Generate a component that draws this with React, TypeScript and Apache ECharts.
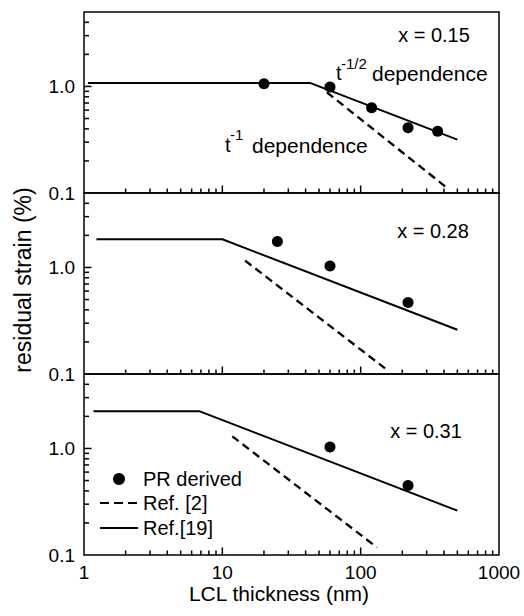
import React, { useEffect, useRef } from 'react';
import * as echarts from 'echarts';

// ---- axis ranges & tick values ----
const X_MIN = 1;
const X_MAX = 1000;
const Y_MIN = 0.1;
const Y_MAX = 5;
const xMinorTicks = [2, 3, 4, 5, 6, 7, 8, 9, 20, 30, 40, 50, 60, 70, 80, 90, 200, 300, 400, 500, 600, 700, 800, 900];
const xMajorTicks = [10, 100];
const yMinorTicks = [0.2, 0.3, 0.4, 0.5, 0.6, 0.7, 0.8, 0.9, 2, 3, 4];
const yMajorTicks = [1];
const xLabelValues = [1, 10, 100, 1000];
const yLabelValues = [0.1, 1];
const xTickLabels = ['1', '10', '100', '1000'];
const yTickLabels = ['0.1', '1.0'];
const panelLabels = ['x = 0.15', 'x = 0.28', 'x = 0.31'];
const seriesNames = ['PR derived', 'Ref. [2]', 'Ref.[19]'];

// ---- panel 1 (x = 0.15) ----
const prX1 = [20, 60, 120, 220, 360];
const prY1 = [1.06, 0.99, 0.63, 0.41, 0.38];
const ref19X1 = [1.07, 43, 500];
const ref19Y1 = [1.08, 1.08, 0.317];
const ref2X1 = [57, 420];
const ref2Y1 = [0.88, 0.112];

// ---- panel 2 (x = 0.28) ----
const prX2 = [25, 60, 220];
const prY2 = [1.75, 1.03, 0.47];
const ref19X2 = [1.23, 10, 500];
const ref19Y2 = [1.84, 1.84, 0.26];
const ref2X2 = [14.6, 150];
const ref2Y2 = [1.16, 0.113];

// ---- panel 3 (x = 0.31) ----
const prX3 = [60, 220];
const prY3 = [1.03, 0.45];
const ref19X3 = [1.17, 6.8, 500];
const ref19Y3 = [2.24, 2.24, 0.261];
const ref2X3 = [11.8, 131];
const ref2Y3 = [1.3, 0.118];

const panels = [
  { prX: prX1, prY: prY1, r19X: ref19X1, r19Y: ref19Y1, r2X: ref2X1, r2Y: ref2Y1 },
  { prX: prX2, prY: prY2, r19X: ref19X2, r19Y: ref19Y2, r2X: ref2X2, r2Y: ref2Y2 },
  { prX: prX3, prY: prY3, r19X: ref19X3, r19Y: ref19Y3, r2X: ref2X3, r2Y: ref2Y3 },
];

const FONT = "'Liberation Sans', Arial, Helvetica, sans-serif";
const zip = (xs: number[], ys: number[]) => xs.map((x, i) => [x, ys[i]]);
const labelFor = (vals: number[], labels: string[]) => (v: number) => {
  const k = vals.findIndex((t) => Math.abs(Math.log10(v) - Math.log10(t)) < 1e-6);
  return k >= 0 ? labels[k] : '';
};

const txt = (text: string, x: number, y: number, size: number, align = 'left', extra: any = {}) => ({
  type: 'text',
  x,
  y,
  ...extra,
  style: {
    text,
    fill: '#000',
    fontSize: size,
    fontFamily: FONT,
    align,
    verticalAlign: 'middle',
  },
});

function makeOption() {
  const GRID_LEFT = 84;
  const GRID_W = 415;
  const GRID_H = 181;
  const GRID_TOPS = [12, 193, 374];

  const grid = GRID_TOPS.map((top) => ({
    left: GRID_LEFT,
    top,
    width: GRID_W,
    height: GRID_H,
    show: true,
    borderColor: '#000',
    borderWidth: 1.5,
  }));

  const xAxis = GRID_TOPS.map((_, i) => ({
    type: 'log',
    gridIndex: i,
    min: X_MIN,
    max: X_MAX,
    axisLine: { show: false },
    axisTick: { show: false },
    splitLine: { show: false },
    axisLabel: {
      show: i === 2,
      color: '#000',
      fontSize: 19,
      fontFamily: FONT,
      margin: 8,
      formatter: labelFor(xLabelValues, xTickLabels),
    },
  }));

  const yAxis = GRID_TOPS.map((_, i) => ({
    type: 'log',
    gridIndex: i,
    min: Y_MIN,
    max: Y_MAX,
    axisLine: { show: false },
    axisTick: { show: false },
    splitLine: { show: false },
    axisLabel: {
      color: '#000',
      fontSize: 19,
      fontFamily: FONT,
      margin: 9,
      formatter: labelFor(yLabelValues, yTickLabels),
    },
  }));

  const tickSeries = (axes: any, data: number[][], size: number[], offset: any[]) => ({
    type: 'scatter',
    ...axes,
    data,
    symbol: 'rect',
    symbolSize: size,
    symbolOffset: offset,
    itemStyle: { color: '#000', opacity: 1 },
    silent: true,
    clip: false,
    emphasis: { disabled: true },
    z: 5,
  });

  const series: any[] = [];
  panels.forEach((p, i) => {
    const axes = { xAxisIndex: i, yAxisIndex: i };
    series.push({
      name: seriesNames[2],
      type: 'line',
      ...axes,
      data: zip(p.r19X, p.r19Y),
      symbol: 'none',
      lineStyle: { color: '#000', width: 2 },
    });
    series.push({
      name: seriesNames[1],
      type: 'line',
      ...axes,
      data: zip(p.r2X, p.r2Y),
      symbol: 'none',
      lineStyle: { color: '#000', width: 2.3, type: [8, 5] },
    });
    series.push({
      name: seriesNames[0],
      type: 'scatter',
      ...axes,
      data: zip(p.prX, p.prY),
      symbol: 'circle',
      symbolSize: 11,
      itemStyle: { color: '#000', opacity: 1 },
    });
    // inside tick marks along the bottom and left edges of each panel
    series.push(tickSeries(axes, xMinorTicks.map((v) => [v, Y_MIN]), [1.5, 4.5], [0, '-50%']));
    series.push(tickSeries(axes, xMajorTicks.map((v) => [v, Y_MIN]), [1.5, 7.5], [0, '-50%']));
    series.push(tickSeries(axes, yMinorTicks.map((v) => [X_MIN, v]), [5, 1.5], ['50%', 0]));
    series.push(tickSeries(axes, yMajorTicks.map((v) => [X_MIN, v]), [7.5, 1.5], ['50%', 0]));
  });

  const graphic: any[] = [
    txt(panelLabels[0], 434, 35, 20, 'center'),
    txt(panelLabels[1], 433, 231, 20, 'center'),
    txt(panelLabels[2], 426, 431, 20, 'center'),
    txt('t', 336, 73, 20),
    txt('-1/2', 341, 63, 15),
    txt('dependence', 372, 73, 21),
    txt('t', 225, 145, 20),
    txt('-1', 230, 134, 15),
    txt('dependence', 252, 145, 21),
    txt('LCL thickness (nm)', 279, 593, 21, 'center'),
    txt('residual strain (%)', 23, 280, 23, 'center', { rotation: Math.PI / 2 }),
    { type: 'circle', shape: { cx: 119, cy: 479, r: 6 }, style: { fill: '#000' } },
    txt(seriesNames[0], 143, 479, 20),
    { type: 'line', shape: { x1: 100, y1: 503, x2: 138, y2: 503 }, style: { stroke: '#000', lineWidth: 2.2, lineDash: [9, 5] } },
    txt(seriesNames[1], 143, 503, 20),
    { type: 'line', shape: { x1: 100, y1: 528, x2: 138, y2: 528 }, style: { stroke: '#000', lineWidth: 2.2 } },
    txt(seriesNames[2], 143, 528, 20),
  ];

  return { animation: false, grid, xAxis, yAxis, series, graphic };
}

export default function App() {
  const ref = useRef<HTMLDivElement>(null);
  useEffect(() => {
    if (!ref.current) return;
    const chart = echarts.init(ref.current, undefined, { renderer: 'svg' });
    chart.setOption(makeOption() as any);
    return () => chart.dispose();
  }, []);
  return <div ref={ref} style={{ position: 'absolute', left: 0, top: 0, width: 524, height: 616, background: '#fff' }} />;
}
